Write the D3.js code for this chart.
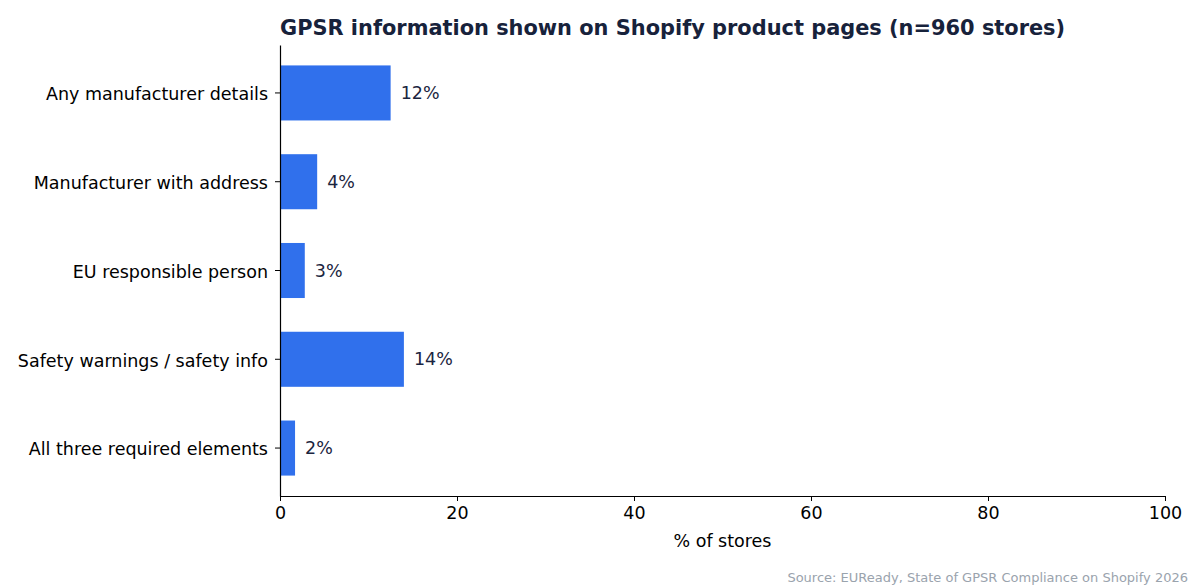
<!doctype html>
<html lang="en">
<head>
<meta charset="utf-8">
<title>GPSR information on Shopify</title>
<script src="https://d3js.org/d3.v7.min.js"></script>
<style>
  body { margin: 0; background: #fff; }
  svg text { font-family: "DejaVu Sans", sans-serif; }
</style>
</head>
<body>
<svg id="chart" width="1200" height="587"></svg>
<script>
  // data
  var categories = ["Any manufacturer details", "Manufacturer with address", "EU responsible person",
                    "Safety warnings / safety info", "All three required elements"];
  var values = [12.5, 4.2, 2.8, 14.0, 1.7];
  var labels = ["12%", "4%", "3%", "14%", "2%"];
  var xTicks = [0, 20, 40, 60, 80, 100];

  var margin = { top: 45, right: 35, bottom: 91, left: 280 };
  var width = 1200 - margin.left - margin.right,
      height = 587 - margin.top - margin.bottom;
  var fs = 17.5;

  var svg = d3.select("#chart");
  var g = svg.append("g")
    .attr("transform", "translate(" + margin.left + "," + margin.top + ")");

  var x = d3.scaleLinear().domain([0, 100]).range([0, width]);
  var y = d3.scaleBand().domain(categories).range([0, height])
    .paddingInner(0.38).paddingOuter(0.23);

  // bars
  g.selectAll(".bar")
    .data(values)
    .enter().append("rect")
    .attr("class", "bar")
    .attr("x", 0)
    .attr("y", function(d, i) { return y(categories[i]); })
    .attr("width", function(d) { return x(d); })
    .attr("height", y.bandwidth())
    .attr("fill", "#3070ec");

  // value labels
  g.selectAll(".val")
    .data(values)
    .enter().append("text")
    .attr("class", "val")
    .attr("x", function(d) { return x(d) + 10; })
    .attr("y", function(d, i) { return y(categories[i]) + y.bandwidth() / 2; })
    .attr("dy", "0.35em")
    .attr("font-size", fs)
    .attr("fill", "#1b2540")
    .text(function(d, i) { return labels[i]; });

  // axes
  var xAxis = g.append("g")
    .attr("transform", "translate(0," + height + ")")
    .call(d3.axisBottom(x).tickValues(xTicks).tickSize(5).tickPadding(6).tickSizeOuter(0));
  var yAxis = g.append("g")
    .call(d3.axisLeft(y).tickSize(5).tickPadding(7).tickSizeOuter(0));
  yAxis.selectAll(".tick text").attr("dy", "0.42em");
  g.selectAll(".domain").attr("stroke", "#000").attr("stroke-width", 1.2);
  g.selectAll(".tick line").attr("stroke", "#000");
  g.selectAll(".tick text").attr("font-family", "DejaVu Sans").attr("font-size", fs).attr("fill", "#000");

  // axis title
  svg.append("text")
    .attr("x", margin.left + width / 2)
    .attr("y", 547)
    .attr("text-anchor", "middle")
    .attr("font-size", fs)
    .attr("fill", "#000")
    .text("% of stores");

  // title
  svg.append("text")
    .attr("x", margin.left)
    .attr("y", 35)
    .attr("font-size", 20.9)
    .attr("font-weight", "bold")
    .attr("fill", "#17223b")
    .text("GPSR information shown on Shopify product pages (n=960 stores)");

  // source note
  svg.append("text")
    .attr("x", 1188)
    .attr("y", 582)
    .attr("text-anchor", "end")
    .attr("font-size", 13)
    .attr("fill", "#9aa3ad")
    .text("Source: EUReady, State of GPSR Compliance on Shopify 2026");
</script>
</body>
</html>
